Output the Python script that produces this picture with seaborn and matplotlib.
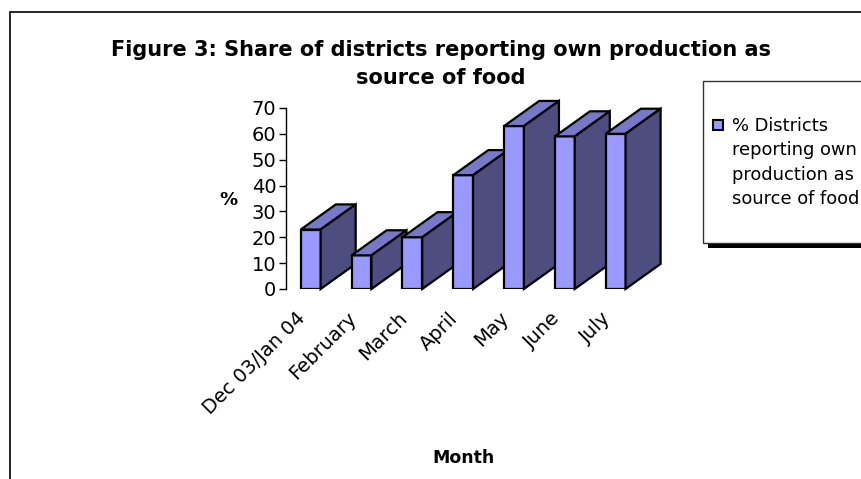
import matplotlib
matplotlib.use("Agg")
import matplotlib.pyplot as plt
from matplotlib.patches import Polygon, Rectangle
from matplotlib.lines import Line2D
from matplotlib.transforms import ScaledTranslation
import seaborn as sns
import pandas as pd

# Data
months = ["Dec 03/Jan 04", "February", "March", "April", "May", "June", "July"]
share_pct = [23, 13, 20, 44, 63, 59, 60]
series_name = "% Districts\nreporting own\nproduction as\nsource of food"
title = "Figure 3: Share of districts reporting own production as\nsource of food"

df = pd.DataFrame({"Month": months, "Share": share_pct})

FRONT = "#9999FF"
TOP = "#7878C9"
SIDE = "#4D4D80"
DEPTH_X = 0.69   # category units
DEPTH_Y = 9.7    # value units

sns.set_theme(style="white")
plt.rcParams["font.family"] = ["DejaVu Sans"]

W, H = 861, 479
fig = plt.figure(figsize=(W / 100, H / 100), dpi=100)
fig.patch.set_facecolor("white")


def fx(px):
    return px / W


def fy(py):
    return 1 - py / H


# chart area frame (open to the right and bottom)
fig.add_artist(Line2D([fx(10), fx(10)], [fy(12), fy(490)], color="black", lw=1.2,
                      transform=fig.transFigure))
fig.add_artist(Line2D([fx(10), fx(880)], [fy(12), fy(12)], color="black", lw=1.2,
                      transform=fig.transFigure))

ax_left, ax_right, ax_top, ax_bottom = 286, 670, 95, 289
ax = fig.add_axes([fx(ax_left), fy(ax_bottom), fx(ax_right - ax_left), (ax_bottom - ax_top) / H])
ax.set_facecolor("none")

sns.barplot(data=df, x="Month", y="Share", color=FRONT, saturation=1, width=0.39,
            edgecolor="black", linewidth=1.6, ax=ax)

ax.set_xlim(-0.486, 7.07)
ax.set_ylim(0, 75)

# extruded top and side faces of each bar
for i, bar in enumerate(ax.patches):
    x0 = bar.get_x()
    x1 = x0 + bar.get_width()
    h = bar.get_height()
    z = 3 + i * 0.1
    bar.set_zorder(z)
    bar.set_joinstyle("miter")
    top = Polygon([(x0, h), (x1, h), (x1 + DEPTH_X, h + DEPTH_Y), (x0 + DEPTH_X, h + DEPTH_Y)],
                  closed=True, facecolor=TOP, edgecolor="black", lw=1.6, zorder=z,
                  clip_on=False, joinstyle="miter")
    side = Polygon([(x1, 0), (x1 + DEPTH_X, DEPTH_Y), (x1 + DEPTH_X, h + DEPTH_Y), (x1, h)],
                   closed=True, facecolor=SIDE, edgecolor="black", lw=1.6, zorder=z,
                   clip_on=False, joinstyle="miter")
    ax.add_patch(top)
    ax.add_patch(side)

ax.set_yticks(range(0, 71, 10))
ax.tick_params(axis="y", left=True, length=5, width=1, color="black", labelsize=14,
               labelcolor="black", pad=2)
ax.tick_params(axis="x", bottom=False, length=0, labelsize=14, labelcolor="black", pad=19)

for s in ["top", "right", "bottom"]:
    ax.spines[s].set_visible(False)
ax.spines["left"].set_bounds(0, 70)
ax.spines["left"].set_color("black")
ax.spines["left"].set_linewidth(1)

shift = ScaledTranslation(-8 / 100, 0, fig.dpi_scale_trans)
for lab in ax.get_xticklabels():
    lab.set_rotation(45)
    lab.set_ha("right")
    lab.set_va("center")
    lab.set_rotation_mode("anchor")
    lab.set_transform(lab.get_transform() + shift)

ax.set_ylabel("%", rotation=0, fontsize=13, fontweight="bold", color="black",
              ha="center", va="center")
ax.yaxis.set_label_coords((228 - ax_left) / (ax_right - ax_left),
                          (ax_bottom - 200) / (ax_bottom - ax_top))
ax.set_xlabel("Month", fontsize=12.5, fontweight="bold", color="black", ha="center", va="center")
ax.xaxis.set_label_coords((463 - ax_left) / (ax_right - ax_left),
                          (ax_bottom - 458) / (ax_bottom - ax_top))

fig.text(fx(441), fy(64), title, ha="center", va="center", fontsize=15,
         fontweight="bold", color="black", linespacing=1.45)

# legend box with drop shadow
fig.add_artist(Rectangle((fx(708), fy(248)), fx(200), (248 - 86) / H, transform=fig.transFigure,
                         facecolor="black", edgecolor="none", zorder=1))
fig.add_artist(Rectangle((fx(703), fy(243)), fx(200), (243 - 81) / H, transform=fig.transFigure,
                         facecolor="white", edgecolor="#333333", lw=1, zorder=2))
fig.add_artist(Rectangle((fx(713), fy(130)), fx(10), 10 / H, transform=fig.transFigure,
                         facecolor=FRONT, edgecolor="black", lw=1.5, zorder=3))
fig.text(fx(732), fy(117), series_name, ha="left", va="top", fontsize=12.9,
         color="black", linespacing=1.46, zorder=4)

fig.savefig("out.png", dpi=100, facecolor="white")
